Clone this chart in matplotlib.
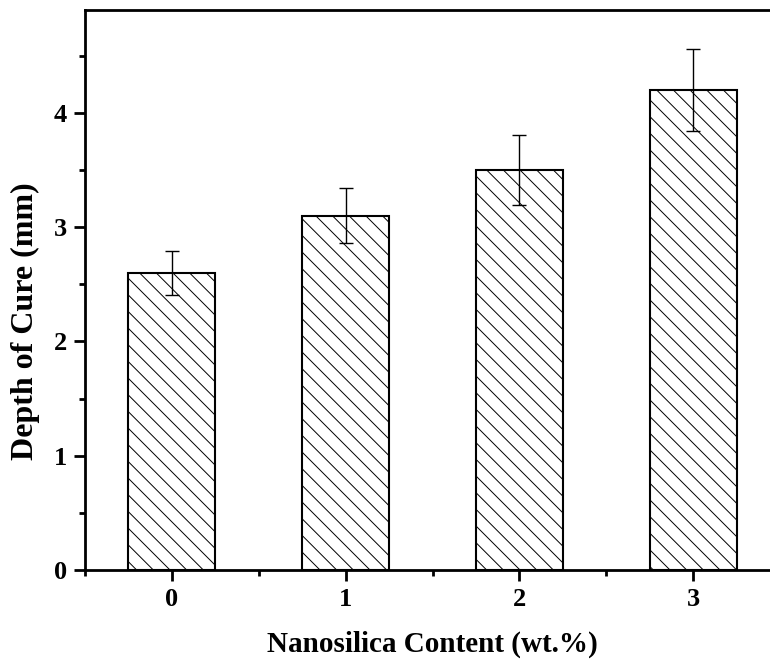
import matplotlib
matplotlib.use("Agg")
import matplotlib.pyplot as plt
from matplotlib.ticker import MultipleLocator

plt.rcParams['font.family'] = ['Liberation Serif', 'DejaVu Serif']
plt.rcParams['font.weight'] = 'bold'
plt.rcParams['hatch.linewidth'] = 0.7

# nanosilica loading vs. cure depth
content = [0, 1, 2, 3]
depth = [2.6, 3.1, 3.5, 4.2]
depth_err = [0.19, 0.24, 0.31, 0.36]

fig = plt.figure(figsize=(7.7, 6.62), dpi=100)
ax = fig.add_axes([0.1104, 0.139, 0.9026, 0.846])

ax.bar(content, depth, width=0.5, color='white', edgecolor='black',
       linewidth=1.5, hatch='\\\\', zorder=2)
ax.errorbar(content, depth, yerr=depth_err, fmt='none', ecolor='black',
            elinewidth=1.0, capsize=5, capthick=1.0, zorder=3)

ax.set_xlim(-0.5, 3.5)
ax.set_ylim(0, 4.9)
ax.set_xticks(content)
ax.xaxis.set_minor_locator(MultipleLocator(0.5))
ax.yaxis.set_major_locator(MultipleLocator(1))
ax.yaxis.set_minor_locator(MultipleLocator(0.5))

for side in ['left', 'bottom', 'top']:
    ax.spines[side].set_linewidth(2)
ax.spines['right'].set_visible(False)

ax.tick_params(which='major', direction='out', length=8, width=2, labelsize=19, pad=5)
ax.tick_params(which='minor', direction='out', length=4, width=2)
for lab in ax.get_xticklabels() + ax.get_yticklabels():
    lab.set_fontweight('bold')

ax.set_xlabel('Nanosilica Content (wt.%)', fontsize=21, fontweight='bold', labelpad=14)
ax.set_ylabel('Depth of Cure (mm)', fontsize=23, fontweight='bold', labelpad=10)
ax.yaxis.label.set_y(0.444)

fig.savefig('out.png', dpi=100)
